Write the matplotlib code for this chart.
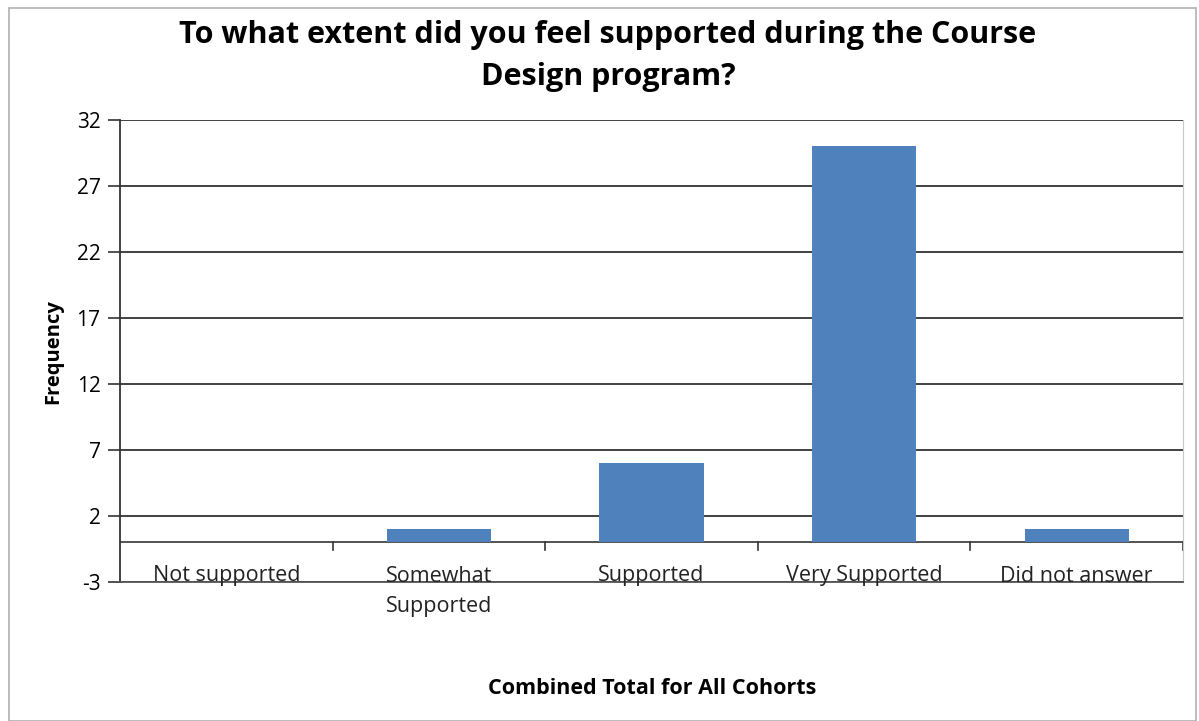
import matplotlib.pyplot as plt
import numpy as np
import matplotlib
from matplotlib.patches import Rectangle

matplotlib.rcParams['font.family'] = ['Open Sans', 'DejaVu Sans']

# data
categories = ['Not supported', 'Somewhat\nSupported', 'Supported', 'Very Supported', 'Did not answer']
counts = [0, 1, 6, 30, 1]
y_ticks = [-3, 2, 7, 12, 17, 22, 27, 32]

W, H = 1199, 721
fig = plt.figure(figsize=(W / 100, H / 100), dpi=100)
ax = fig.add_axes([120 / W, 1 - 582 / H, (1183 - 120) / W, (582 - 120) / H])

# outer chart border
fig.patches.append(Rectangle((9 / W, 0), (1196 - 9) / W, 1 - 8 / H, transform=fig.transFigure,
                             fill=False, edgecolor='#b0b0b0', linewidth=1.2))

x = np.arange(len(categories))
ax.bar(x, counts, width=0.49, color='#4F81BD', zorder=3)

ax.set_xlim(-0.5, len(categories) - 0.5)
ax.set_ylim(-3, 32)
ax.set_yticks(y_ticks)
ax.set_yticklabels([str(t) for t in y_ticks], fontsize=15)
ax.tick_params(axis='y', length=9, width=1.2, color='#333333', pad=5)
ax.set_xticks([])
ax.yaxis.grid(True, color='#333333', linewidth=1.3, zorder=1)
ax.set_axisbelow(True)

# category axis at zero with boundary ticks
ax.axhline(0, color='#444444', linewidth=1.3, zorder=2)
for b in np.arange(0.5, len(categories), 1.0):
    ax.plot([b, b], [0, -0.6], color='#333333', linewidth=1.2, clip_on=False, zorder=2)

for i, lab in enumerate(categories):
    ax.text(i, -1.75, lab, ha='center', va='top', fontsize=15.5, color='#222222',
            linespacing=1.6, clip_on=False)

for s in ['top']:
    ax.spines[s].set_visible(False)
ax.spines['left'].set_color('#333333')
ax.spines['left'].set_linewidth(1.3)
ax.spines['bottom'].set_color('#555555')
ax.spines['bottom'].set_linewidth(1.3)
ax.spines['right'].set_color('#c8c8c8')

fig.text(608 / W, 1 - 56 / H, 'To what extent did you feel supported during the Course\nDesign program?',
         ha='center', va='center', fontsize=22, fontweight='bold', linespacing=1.55)
fig.text(53 / W, 1 - 352 / H, 'Frequency', rotation=90, ha='center', va='center',
         fontsize=14.5, fontweight='bold')
fig.text(652 / W, 1 - 689 / H, 'Combined Total for All Cohorts', ha='center', va='center',
         fontsize=15.5, fontweight='bold')

fig.savefig('out.png', dpi=100)
